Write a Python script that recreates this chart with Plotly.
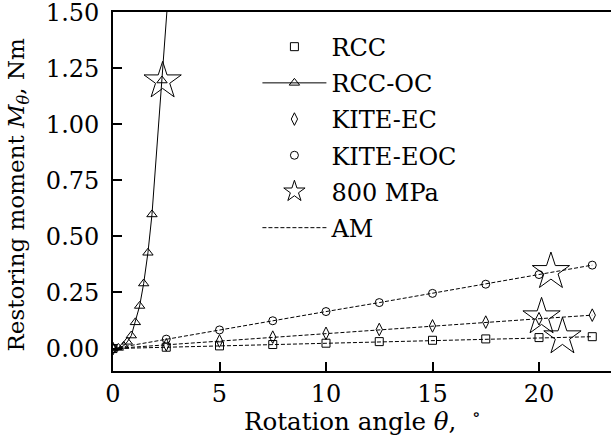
import plotly.graph_objects as go

# ---- data ----
angles = [0, 2.5, 5, 7.5, 10, 12.5, 15, 17.5, 20, 22.5]
rcc = [0, 0.006, 0.012, 0.018, 0.024, 0.031, 0.037, 0.043, 0.049, 0.053]
kite_ec = [0, 0.017, 0.034, 0.051, 0.068, 0.085, 0.101, 0.118, 0.133, 0.149]
kite_eoc = [0, 0.042, 0.083, 0.124, 0.165, 0.205, 0.246, 0.287, 0.330, 0.372]

rcc_oc_x = [0, 0.25, 0.5, 0.67, 0.86, 1.05, 1.25, 1.44, 1.64, 1.83, 2.3, 2.8]
rcc_oc_y = [0, 0.003, 0.012, 0.03, 0.058, 0.117, 0.19, 0.29, 0.427, 0.598, 1.195, 1.85]

star_x = [2.33, 20.56, 20.12, 21.1]
star_y = [1.193, 0.343, 0.141, 0.052]

xticks = [0, 5, 10, 15, 20]
yticks = [0.0, 0.25, 0.5, 0.75, 1.0, 1.25, 1.5]

x_title = "Rotation angle <i>θ</i>,  <sup>∘</sup>"
y_title = "Restoring moment <i>M</i><sub><i>θ</i></sub>, Nm"

FONT = "DejaVu Serif"
FS_TICK = 24
FS_LEG = 24
FS_XTITLE = 24.5
FS_YTITLE = 23
BLACK = "black"

fig = go.Figure()

# AM dashed lines
for i, ys in enumerate([rcc, kite_ec, kite_eoc]):
    fig.add_trace(go.Scatter(
        x=angles, y=ys, mode="lines",
        line=dict(color=BLACK, width=1, dash="4px,2px"),
        name="AM", showlegend=(i == 0), legendrank=6, legendgroup="g6",
        hoverinfo="skip"))

fig.add_trace(go.Scatter(
    x=angles, y=rcc, mode="markers", name="RCC", legendrank=1, legendgroup="g1",
    marker=dict(symbol="square-open", size=8, color=BLACK, line=dict(width=1, color=BLACK))))
fig.add_trace(go.Scatter(
    x=rcc_oc_x, y=rcc_oc_y, mode="lines+markers", name="RCC-OC", legendrank=2, legendgroup="g2",
    line=dict(color=BLACK, width=1),
    marker=dict(symbol="triangle-up-open", size=9, color=BLACK, line=dict(width=1, color=BLACK))))
fig.add_trace(go.Scatter(
    x=angles, y=kite_ec, mode="markers", name="KITE-EC", legendrank=3, legendgroup="g3",
    marker=dict(symbol="diamond-tall-open", size=9, color=BLACK, line=dict(width=1, color=BLACK))))
fig.add_trace(go.Scatter(
    x=angles, y=kite_eoc, mode="markers", name="KITE-EOC", legendrank=4, legendgroup="g4",
    marker=dict(symbol="circle-open", size=8, color=BLACK, line=dict(width=1, color=BLACK))))
fig.add_trace(go.Scatter(
    x=star_x, y=star_y, mode="markers", name="800 MPa", legendrank=5, legendgroup="g5",
    marker=dict(symbol="star-open", size=28, color=BLACK, line=dict(width=1, color=BLACK))))

axis_common = dict(
    showgrid=False, zeroline=False, showline=True, linecolor=BLACK, linewidth=1.8,
    ticks="inside", ticklen=9, tickwidth=1.5, tickcolor=BLACK, automargin=False,
    ticklabeloverflow="allow",
    tickfont=dict(family=FONT, size=FS_TICK, color=BLACK),
)

fig.update_layout(
    width=611, height=442,
    margin=dict(l=113, r=0, t=12, b=71),
    plot_bgcolor="white", paper_bgcolor="white",
    font=dict(family=FONT, size=FS_TICK, color=BLACK),
    xaxis=dict(range=[0, 23.38], tickvals=xticks, ticktext=[str(v) for v in xticks],
               mirror=True, ticklabelstandoff=0, **axis_common),
    yaxis=dict(range=[-0.1, 1.5005], tickvals=yticks, ticktext=[f"{v:.2f}" for v in yticks],
               ticklabelstandoff=7, **axis_common),
    legend=dict(x=0.29, y=0.965, xanchor="left", yanchor="top", bgcolor="rgba(0,0,0,0)",
                font=dict(family=FONT, size=FS_LEG, color=BLACK), traceorder="grouped",
                tracegroupgap=2, itemwidth=64),
    showlegend=True,
    annotations=[
        dict(text=x_title, xref="paper", yref="paper", x=0.50, y=-0.137,
             xanchor="center", yanchor="middle", showarrow=False,
             font=dict(family=FONT, size=FS_XTITLE, color=BLACK)),
        dict(text=y_title, xref="paper", yref="paper", x=-0.19, y=0.49,
             xanchor="center", yanchor="middle", textangle=-90, showarrow=False,
             font=dict(family=FONT, size=FS_YTITLE, color=BLACK)),
    ],
)

fig.write_html("out.html", config={"displayModeBar": False},
               post_script="document.body.style.margin='0px';document.body.style.overflow='hidden';")
